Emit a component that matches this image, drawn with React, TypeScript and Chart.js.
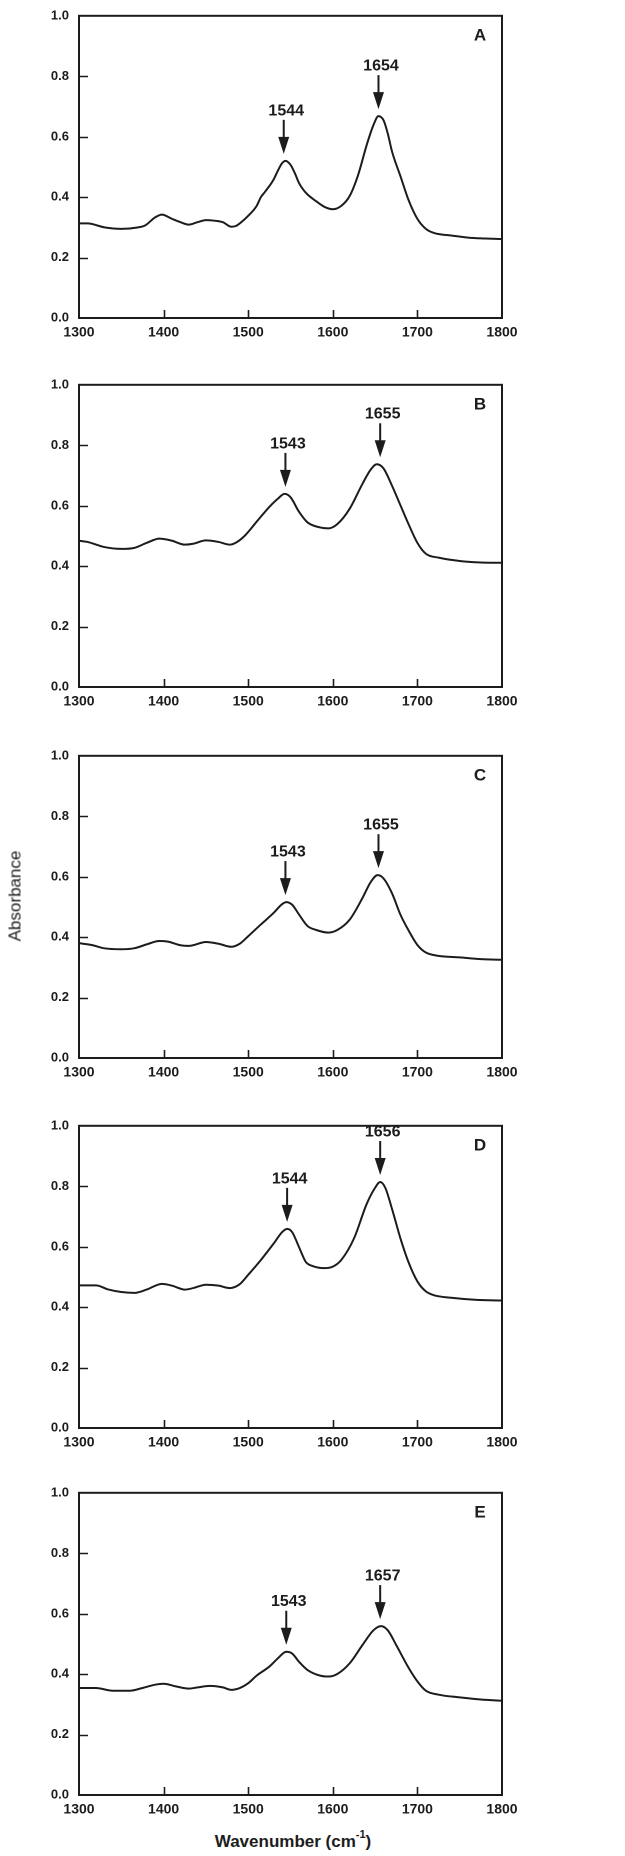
import React, { useEffect, useRef } from 'react';
import { Chart, registerables } from 'chart.js';

Chart.register(...registerables);

// ---- axis ticks ----
const xTickValues = [1300, 1400, 1500, 1600, 1700, 1800];
const yTickValues = [0, 0.2, 0.4, 0.6, 0.8, 1.0];

// ---- spectra (wavenumber, absorbance) ----
const wnA = [1300, 1310, 1330, 1350, 1370, 1378, 1390, 1398, 1410, 1420, 1430, 1440, 1450, 1460, 1470, 1480, 1485, 1490, 1500, 1510, 1515, 1520, 1530, 1535, 1540, 1544, 1550, 1555, 1560, 1565, 1570, 1580, 1590, 1600, 1610, 1620, 1630, 1640, 1648, 1654, 1660, 1665, 1670, 1680, 1690, 1700, 1710, 1720, 1740, 1760, 1780, 1800];
const absA = [0.313, 0.313, 0.300, 0.295, 0.300, 0.306, 0.333, 0.342, 0.328, 0.317, 0.309, 0.317, 0.324, 0.322, 0.317, 0.302, 0.304, 0.313, 0.338, 0.371, 0.400, 0.418, 0.458, 0.487, 0.512, 0.520, 0.507, 0.480, 0.447, 0.425, 0.409, 0.387, 0.368, 0.360, 0.371, 0.404, 0.474, 0.572, 0.638, 0.668, 0.654, 0.610, 0.551, 0.469, 0.387, 0.328, 0.295, 0.281, 0.273, 0.266, 0.263, 0.261];

const wnB = [1300, 1310, 1330, 1350, 1365, 1380, 1395, 1410, 1425, 1435, 1450, 1465, 1478, 1485, 1495, 1510, 1525, 1535, 1543, 1550, 1560, 1570, 1585, 1595, 1605, 1620, 1635, 1645, 1652, 1660, 1670, 1680, 1690, 1700, 1710, 1725, 1750, 1775, 1800];
const absB = [0.484, 0.480, 0.463, 0.457, 0.460, 0.477, 0.491, 0.484, 0.471, 0.474, 0.485, 0.480, 0.471, 0.477, 0.498, 0.547, 0.596, 0.623, 0.639, 0.628, 0.580, 0.545, 0.528, 0.525, 0.538, 0.590, 0.672, 0.720, 0.737, 0.723, 0.666, 0.601, 0.536, 0.477, 0.441, 0.428, 0.417, 0.412, 0.411];

const wnC = [1300, 1315, 1330, 1350, 1365, 1380, 1395, 1405, 1420, 1430, 1450, 1465, 1480, 1490, 1500, 1515, 1530, 1540, 1545, 1552, 1560, 1570, 1580, 1595, 1605, 1620, 1635, 1645, 1653, 1660, 1670, 1680, 1690, 1700, 1710, 1725, 1750, 1775, 1800];
const absC = [0.380, 0.374, 0.363, 0.360, 0.363, 0.376, 0.387, 0.385, 0.373, 0.371, 0.384, 0.378, 0.368, 0.378, 0.403, 0.442, 0.480, 0.509, 0.516, 0.507, 0.475, 0.437, 0.424, 0.415, 0.423, 0.458, 0.529, 0.583, 0.605, 0.594, 0.545, 0.474, 0.420, 0.374, 0.349, 0.338, 0.333, 0.327, 0.325];

const wnD = [1300, 1320, 1335, 1350, 1365, 1380, 1398, 1410, 1425, 1435, 1450, 1465, 1478, 1490, 1500, 1515, 1530, 1540, 1546, 1552, 1560, 1568, 1575, 1590, 1600, 1610, 1625, 1640, 1650, 1656, 1662, 1670, 1680, 1690, 1700, 1710, 1720, 1740, 1770, 1800];
const absD = [0.472, 0.472, 0.458, 0.450, 0.447, 0.458, 0.477, 0.471, 0.458, 0.463, 0.474, 0.471, 0.463, 0.476, 0.507, 0.556, 0.610, 0.648, 0.659, 0.648, 0.599, 0.550, 0.537, 0.529, 0.534, 0.556, 0.627, 0.741, 0.795, 0.814, 0.795, 0.725, 0.627, 0.545, 0.485, 0.452, 0.439, 0.431, 0.424, 0.422];

const wnE = [1300, 1320, 1340, 1360, 1375, 1390, 1400, 1415, 1430, 1440, 1455, 1470, 1480, 1490, 1500, 1510, 1525, 1535, 1545, 1552, 1560, 1570, 1585, 1595, 1605, 1620, 1635, 1648, 1657, 1665, 1675, 1690, 1700, 1710, 1725, 1750, 1775, 1800];
const absE = [0.354, 0.354, 0.345, 0.345, 0.354, 0.365, 0.368, 0.359, 0.352, 0.356, 0.361, 0.356, 0.348, 0.354, 0.370, 0.395, 0.425, 0.452, 0.474, 0.468, 0.441, 0.414, 0.395, 0.392, 0.400, 0.436, 0.496, 0.545, 0.559, 0.545, 0.496, 0.419, 0.376, 0.345, 0.332, 0.323, 0.316, 0.312];

// ---- panel annotations ----
const panelLetters = ['A', 'B', 'C', 'D', 'E'];
const amideIILabels = ['1544', '1543', '1543', '1544', '1543'];
const amideILabels = ['1654', '1655', '1655', '1656', '1657'];
const amideIIArrowWn = [1542, 1544, 1544, 1546, 1545];
const amideIArrowWn = [1654, 1656, 1654, 1656, 1656];
const amideIIPeakAbs = [0.520, 0.639, 0.516, 0.659, 0.474];
const amideIPeakAbs = [0.668, 0.737, 0.605, 0.814, 0.559];

const spectraWn = [wnA, wnB, wnC, wnD, wnE];
const spectraAbs = [absA, absB, absC, absD, absE];

const FONT = '"Liberation Sans", Arial, Helvetica, sans-serif';
const INK = '#1c1c1c';

const panelTops = [12, 381, 752, 1122, 1489];
const PLOT_LEFT = 79;
const PLOT_RIGHT = 502;
const PLOT_H = 306;
const PAD_TOP = 14;
const X_AXIS_H = 30;
const CANVAS_W = 625;
const CANVAS_H = PAD_TOP + PLOT_H + X_AXIS_H;

const framePlugin = {
  id: 'frameAndNotes',
  afterDatasetsDraw(chart: any, _args: any, opts: any) {
    const { ctx, chartArea } = chart;
    const xs = chart.scales.x;
    const ys = chart.scales.y;
    const { left, right, top, bottom } = chartArea;
    ctx.save();
    ctx.strokeStyle = INK;
    ctx.fillStyle = INK;
    // inward ticks
    ctx.lineWidth = 1.6;
    ctx.beginPath();
    for (const v of yTickValues.slice(1, -1)) {
      const py = Math.round(ys.getPixelForValue(v)) + 0.5;
      ctx.moveTo(left, py);
      ctx.lineTo(left + 9, py);
    }
    for (const v of xTickValues.slice(1, -1)) {
      const px = Math.round(xs.getPixelForValue(v)) + 0.5;
      ctx.moveTo(px, bottom);
      ctx.lineTo(px, bottom - 8);
    }
    ctx.stroke();
    // frame
    ctx.lineWidth = 2;
    ctx.strokeRect(left, top, right - left, bottom - top);
    // panel letter
    ctx.font = `bold 17px ${FONT}`;
    ctx.textAlign = 'center';
    ctx.textBaseline = 'middle';
    ctx.fillText(opts.letter, right - 22, top + 20);
    // peak arrows
    ctx.font = `bold 16px ${FONT}`;
    for (const p of opts.peaks) {
      const px = xs.getPixelForValue(p.wn);
      const tip = ys.getPixelForValue(p.abs) - 7;
      const start = tip - 34;
      ctx.lineWidth = 2;
      ctx.beginPath();
      ctx.moveTo(px, start);
      ctx.lineTo(px, tip - 14);
      ctx.stroke();
      ctx.beginPath();
      ctx.moveTo(px - 5.5, tip - 17);
      ctx.lineTo(px + 5.5, tip - 17);
      ctx.lineTo(px, tip);
      ctx.closePath();
      ctx.fill();
      ctx.fillText(p.label, px + 2.5, start - 9);
    }
    ctx.restore();
  },
};

function Panel({ index }: { index: number }) {
  const ref = useRef<HTMLCanvasElement | null>(null);
  useEffect(() => {
    if (!ref.current) return;
    const wn = spectraWn[index];
    const ab = spectraAbs[index];
    const data = wn.map((w, i) => ({ x: w, y: ab[i] }));
    const chart = new Chart(ref.current, {
      type: 'line',
      data: {
        datasets: [
          {
            data,
            borderColor: INK,
            borderWidth: 2,
            pointRadius: 0,
            fill: false,
            cubicInterpolationMode: 'monotone',
          },
        ],
      },
      options: {
        animation: false,
        responsive: false,
        devicePixelRatio: 2,
        layout: { padding: { top: PAD_TOP, left: 0, right: CANVAS_W - PLOT_RIGHT, bottom: 0 } },
        plugins: {
          legend: { display: false },
          tooltip: { enabled: false },
          frameAndNotes: {
            letter: panelLetters[index],
            peaks: [
              { wn: amideIIArrowWn[index], abs: amideIIPeakAbs[index], label: amideIILabels[index] },
              { wn: amideIArrowWn[index], abs: amideIPeakAbs[index], label: amideILabels[index] },
            ],
          },
        } as any,
        scales: {
          x: {
            type: 'linear',
            min: 1300,
            max: 1800,
            afterFit: (s: any) => { s.height = X_AXIS_H; },
            afterBuildTicks: (s: any) => { s.ticks = xTickValues.map((v) => ({ value: v })); },
            grid: { display: false, drawTicks: false },
            border: { display: false },
            ticks: {
              autoSkip: false,
              maxRotation: 0,
              padding: 6,
              color: INK,
              font: { family: FONT, size: 14, weight: 'bold' },
              callback: (v: any) => String(v),
            },
          },
          y: {
            type: 'linear',
            min: 0,
            max: 1,
            afterFit: (s: any) => { s.width = PLOT_LEFT; },
            afterBuildTicks: (s: any) => { s.ticks = yTickValues.map((v) => ({ value: v })); },
            grid: { display: false, drawTicks: false },
            border: { display: false },
            ticks: {
              padding: 10,
              color: INK,
              font: { family: FONT, size: 13, weight: 'bold' },
              callback: (v: any) => Number(v).toFixed(1),
            },
          },
        },
      },
      plugins: [framePlugin],
    } as any);
    return () => chart.destroy();
  }, [index]);
  return (
    <div style={{ position: 'absolute', left: 0, top: panelTops[index] - PAD_TOP, width: CANVAS_W, height: CANVAS_H }}>
      <canvas ref={ref} width={CANVAS_W} height={CANVAS_H} style={{ width: CANVAS_W, height: CANVAS_H, display: 'block' }} />
    </div>
  );
}

export default function App() {
  useEffect(() => {
    document.body.style.margin = '0';
    document.body.style.background = '#ffffff';
  }, []);
  return (
    <div style={{ position: 'relative', width: 625, height: 1856, background: '#fff', overflow: 'hidden' }}>
      {panelLetters.map((_, i) => (
        <Panel key={i} index={i} />
      ))}
      <div
        style={{
          position: 'absolute',
          left: 15,
          top: 896,
          transform: 'translate(-50%, -50%) rotate(-90deg)',
          fontFamily: FONT,
          fontSize: 17,
          color: INK,
          whiteSpace: 'nowrap',
          lineHeight: 1,
        }}
      >
        Absorbance
      </div>
      <div
        style={{
          position: 'absolute',
          left: 293,
          top: 1841,
          transform: 'translate(-50%, -50%)',
          fontFamily: FONT,
          fontSize: 17,
          fontWeight: 'bold',
          color: INK,
          whiteSpace: 'nowrap',
          lineHeight: 1,
        }}
      >
        Wavenumber (cm<sup style={{ fontSize: 11, verticalAlign: 'top', position: 'relative', top: -4 }}>-1</sup>)
      </div>
    </div>
  );
}
